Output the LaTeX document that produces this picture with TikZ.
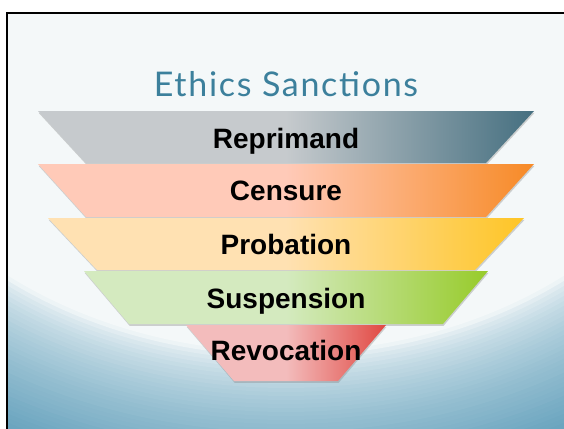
\documentclass[tikz,border=0pt]{standalone}
\usepackage{fontspec}
\setmainfont{Liberation Sans}
\newfontfamily\titlefont[LetterSpace=5]{Lato}
\usetikzlibrary{shadows}

\definecolor{bgwhite}{HTML}{F4F8F9}
\definecolor{bgblue}{HTML}{6BA5BF}
\definecolor{titleblue}{HTML}{3C809C}
\definecolor{reprimandA}{HTML}{C6CACD}
\definecolor{reprimandB}{HTML}{456F80}
\definecolor{censureA}{HTML}{FFCAB8}
\definecolor{censureB}{HTML}{F78A26}
\definecolor{probationA}{HTML}{FFE1B2}
\definecolor{probationB}{HTML}{FEC525}
\definecolor{suspensionA}{HTML}{D4EABF}
\definecolor{suspensionB}{HTML}{97CB2A}
\definecolor{revocationA}{HTML}{F3BCBC}
\definecolor{revocationB}{HTML}{E04842}

\begin{document}
\begin{tikzpicture}[x=1pt, y=-1pt,
    band/.style={drop shadow={shadow xshift=0.6pt, shadow yshift=-1.8pt, opacity=0.35}},
    bandlabel/.style={font=\bfseries\fontsize{28}{28}\selectfont, anchor=base},
    titlelabel/.style={font=\titlefont\fontsize{34}{34}\selectfont, text=titleblue, anchor=base}]

  \useasboundingbox (0,0) rectangle (564,428);

  % Background
  \fill[white] (0,0) rectangle (564,428);
  \begin{scope}
    \clip (7,13) rectangle (564,428);
    \fill[bgblue] (7,13) rectangle (564,428);
    \foreach \r in {500,496,...,352} {
      \pgfmathtruncatemacro\p{100*(max(0,min(1,(\r-355)/125)))^0.6}
      \fill[bgblue!\p!bgwhite] (286,0) ellipse [x radius=1.27*\r, y radius=\r];
    }
  \end{scope}
  \draw[line width=2pt] (7,440) -- (7,13) -- (570,13);

  % Title
  \node[titlelabel] (title) at (286,96) {Ethics Sanctions};

  % Reprimand
  \shade[band, left color=reprimandA, right color=reprimandB, middle color=reprimandA]
    (38,111) -- (534,111) -- (486,163) -- (86,163) -- cycle;
  \node[bandlabel] (reprimand) at (286,148) {Reprimand};

  % Censure
  \shade[band, left color=censureA, right color=censureB, middle color=censureA]
    (38,164) -- (534,164) -- (486,217) -- (86,217) -- cycle;
  \node[bandlabel] (censure) at (286,200) {Censure};

  % Probation
  \shade[band, left color=probationA, right color=probationB, middle color=probationA]
    (48,218) -- (524,218) -- (475,270) -- (97,270) -- cycle;
  \node[bandlabel] (probation) at (286,254) {Probation};

  % Suspension
  \shade[band, left color=suspensionA, right color=suspensionB, middle color=suspensionA]
    (84,271) -- (488,271) -- (443,324) -- (129,324) -- cycle;
  \node[bandlabel] (suspension) at (286,308) {Suspension};

  % Revocation
  \shade[band, left color=revocationA, right color=revocationB, middle color=revocationA]
    (186,325) -- (386,325) -- (338,381) -- (234,381) -- cycle;
  \node[bandlabel] (revocation) at (286,360) {Revocation};

\end{tikzpicture}
\end{document}
